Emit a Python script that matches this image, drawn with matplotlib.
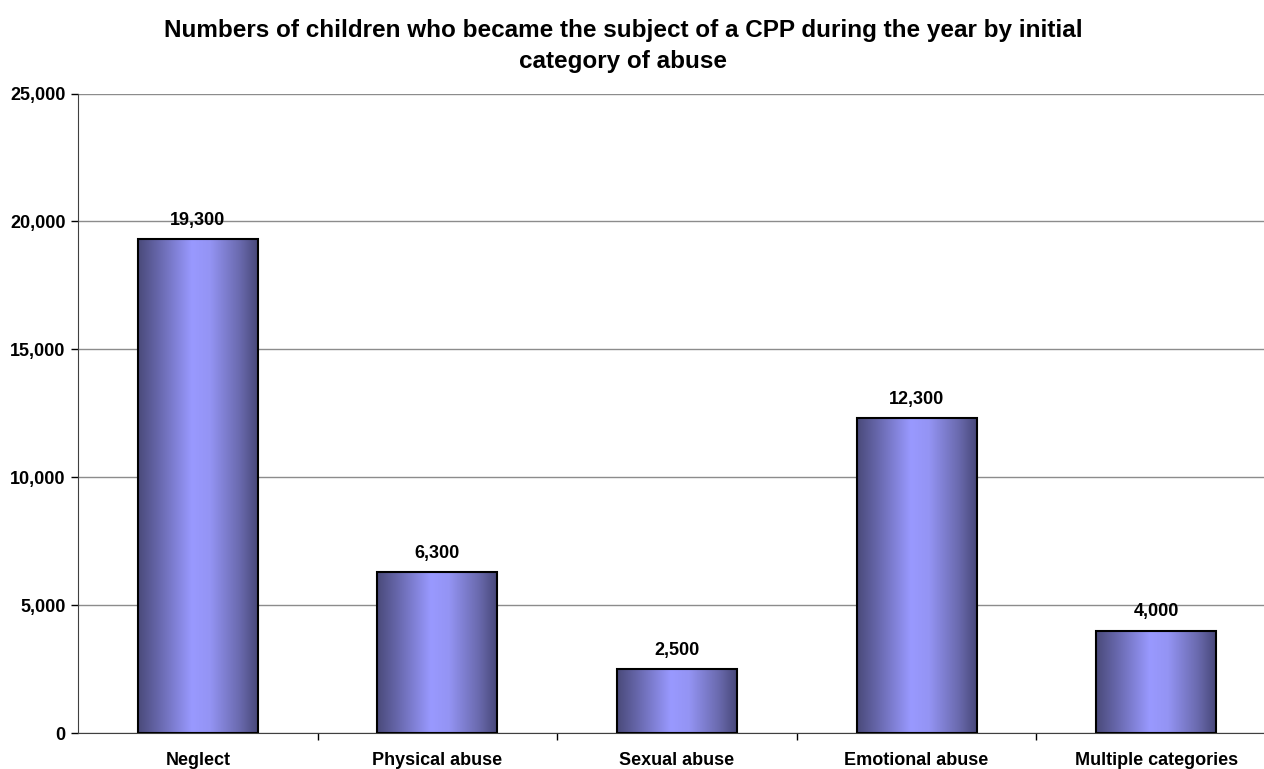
import matplotlib
matplotlib.use('Agg')
import matplotlib.pyplot as plt
import numpy as np
from matplotlib.colors import LinearSegmentedColormap
from matplotlib.ticker import FuncFormatter, MultipleLocator

plt.rcParams['font.family'] = ['Liberation Sans', 'DejaVu Sans']

categories = ['Neglect', 'Physical abuse', 'Sexual abuse', 'Emotional abuse', 'Multiple categories']
children = [19300, 6300, 2500, 12300, 4000]
title = 'Numbers of children who became the subject of a CPP during the year by initial\ncategory of abuse'

fig = plt.figure(figsize=(12.64, 7.69), dpi=100)
ax = fig.add_axes([0.0617, 0.0468, 0.9478, 0.8316])

x = np.arange(len(categories))
bars = ax.bar(x, children, width=0.5, color='none', edgecolor='black', linewidth=1.5, zorder=3)

# horizontal shading across each bar: dark edges, light middle
shade = LinearSegmentedColormap.from_list(
    'bar_shade', [(0.0, '#4a4a7a'), (0.2, '#6c6cb4'), (0.45, '#9999ff'),
                  (0.6, '#9494f4'), (0.85, '#6a6aae'), (1.0, '#48487a')])
grad = np.linspace(0, 1, 256).reshape(1, -1)
for b in bars:
    x0, w, h = b.get_x(), b.get_width(), b.get_height()
    im = ax.imshow(grad, cmap=shade, aspect='auto', extent=(x0, x0 + w, 0, h),
                   interpolation='bicubic', zorder=2)
    im.set_clip_path(b)

for xi, v in zip(x, children):
    ax.text(xi, v + 400, f'{v:,}', ha='center', va='bottom', fontsize=13, fontweight='bold')

ax.set_xlim(-0.5, len(categories) - 0.5)
ax.set_ylim(0, 25000)
ax.yaxis.set_major_locator(MultipleLocator(5000))
ax.yaxis.set_major_formatter(FuncFormatter(lambda v, p: f'{int(v):,}'))
ax.yaxis.grid(True, color='#8c8c8c', linewidth=1.0, zorder=0)
ax.set_axisbelow(True)

ax.set_xticks(x)
ax.set_xticklabels(categories, fontsize=13, fontweight='bold')
ax.set_xticks(np.arange(len(categories)) + 0.5, minor=True)
ax.tick_params(axis='x', which='major', length=0, pad=14)
ax.tick_params(axis='x', which='minor', length=5, width=1, direction='out')
ax.tick_params(axis='y', length=5, width=1, pad=4)
for lab in ax.get_yticklabels():
    lab.set_fontweight('bold')
    lab.set_fontsize(13)

for s in ['top', 'right']:
    ax.spines[s].set_visible(False)
ax.spines['left'].set_color('#404040')
ax.spines['bottom'].set_color('#404040')

fig.text(0.493, 0.975, title, ha='center', va='top', fontsize=17.5, fontweight='bold',
         linespacing=1.45)

fig.savefig('out.png', dpi=100)
